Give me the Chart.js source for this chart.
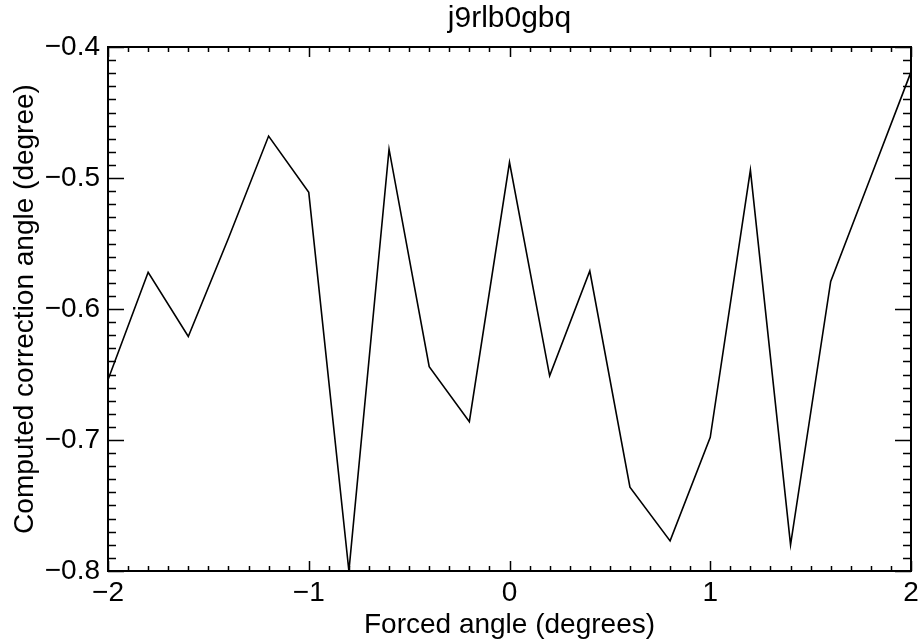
<!DOCTYPE html>
<html>
<head>
<meta charset="utf-8">
<title>j9rlb0gbq</title>
<script src="https://cdn.jsdelivr.net/npm/chart.js@4.4.1/dist/chart.umd.min.js"></script>
<style>
    html, body { margin: 0; padding: 0; background: #ffffff; }
    #wrap { position: relative; width: 920px; height: 643px; }
</style>
</head>
<body>
<div id="wrap"><canvas id="plot" width="920" height="643"></canvas></div>
<script>
// ===== DATA =====
const forcedAngle = [-2.0, -1.8, -1.6, -1.4, -1.2, -1.0, -0.8, -0.6, -0.4, -0.2,
                     0.0, 0.2, 0.4, 0.6, 0.8, 1.0, 1.2, 1.4, 1.6, 1.8, 2.0];
const correctionAngle = [-0.654, -0.572, -0.621, -0.546, -0.468, -0.511, -0.800, -0.478, -0.644, -0.686,
                         -0.488, -0.651, -0.571, -0.736, -0.777, -0.698, -0.494, -0.780, -0.579, -0.499, -0.419];
const xTicks = [-2, -1, 0, 1, 2];
const yTicks = [-0.8, -0.7, -0.6, -0.5, -0.4];

const FONT = "'Liberation Sans', Arial, sans-serif";
const fmt = v => String(v).replace('-', '\u2212');

// ===== IDL STYLE FRAME + TICKS =====
// box around the plot, major/minor ticks pointing inward on all four sides
const idlFrame = {
    id: 'idlFrame',
    afterDraw(chart) {
        const { ctx, chartArea: a, scales: { x, y } } = chart;
        ctx.save();
        ctx.strokeStyle = '#000';
        ctx.lineWidth = 2;
        ctx.strokeRect(a.left, a.top, a.right - a.left, a.bottom - a.top);

        ctx.lineWidth = 1.5;
        ctx.beginPath();
        for (let i = -20; i <= 20; i++) {
            const px = Math.round(x.getPixelForValue(i / 10)) + 0.5;
            const len = i % 10 === 0 ? 10 : 5;
            ctx.moveTo(px, a.bottom); ctx.lineTo(px, a.bottom - len);
            ctx.moveTo(px, a.top); ctx.lineTo(px, a.top + len);
        }
        for (let i = -80; i <= -40; i++) {
            const py = Math.round(y.getPixelForValue(i / 100)) + 0.5;
            const len = i % 10 === 0 ? 16 : 8;
            ctx.moveTo(a.left, py); ctx.lineTo(a.left + len, py);
            ctx.moveTo(a.right, py); ctx.lineTo(a.right - len, py);
        }
        ctx.stroke();
        ctx.restore();
    }
};

new Chart(document.getElementById('plot'), {
    type: 'line',
    data: {
        datasets: [{
            data: forcedAngle.map((v, i) => ({ x: v, y: correctionAngle[i] })),
            borderColor: '#000',
            borderWidth: 1.6,
            pointRadius: 0,
            tension: 0,
            fill: false
        }]
    },
    options: {
        responsive: false,
        animation: false,
        layout: { padding: { left: 0, right: 9, top: 0, bottom: 0 } },
        plugins: {
            legend: { display: false },
            tooltip: { enabled: false },
            title: {
                display: true,
                fullSize: false,   // centre over the plot box, like IDL
                text: 'j9rlb0gbq',
                color: '#000',
                font: { family: FONT, size: 30, weight: 'normal' },
                padding: { top: 1, bottom: 10 }
            }
        },
        scales: {
            x: {
                type: 'linear',
                min: -2,
                max: 2,
                grid: { display: false, drawTicks: false },
                border: { display: false },
                afterBuildTicks: s => { s.ticks = xTicks.map(v => ({ value: v })); },
                afterFit: s => { s.height = 72; s.paddingLeft = 0; s.paddingRight = 0; },
                ticks: {
                    color: '#000',
                    padding: 5,
                    maxRotation: 0,
                    font: { family: FONT, size: 28 },
                    callback: v => fmt(v)
                },
                title: {
                    display: true,
                    text: 'Forced angle (degrees)',
                    color: '#000',
                    font: { family: FONT, size: 28 },
                    padding: { top: 0, bottom: 1 }
                }
            },
            y: {
                type: 'linear',
                min: -0.8,
                max: -0.4,
                grid: { display: false, drawTicks: false },
                border: { display: false },
                afterBuildTicks: s => { s.ticks = yTicks.map(v => ({ value: v })); },
                afterFit: s => { s.width = 108; },
                ticks: {
                    color: '#000',
                    padding: 8,
                    font: { family: FONT, size: 28 },
                    callback: v => fmt(v.toFixed(1))
                },
                title: {
                    display: true,
                    text: 'Computed correction angle (degree)',
                    color: '#000',
                    font: { family: FONT, size: 28 },
                    padding: { top: 8, bottom: 0 }
                }
            }
        }
    },
    plugins: [idlFrame]
});
</script>
</body>
</html>
